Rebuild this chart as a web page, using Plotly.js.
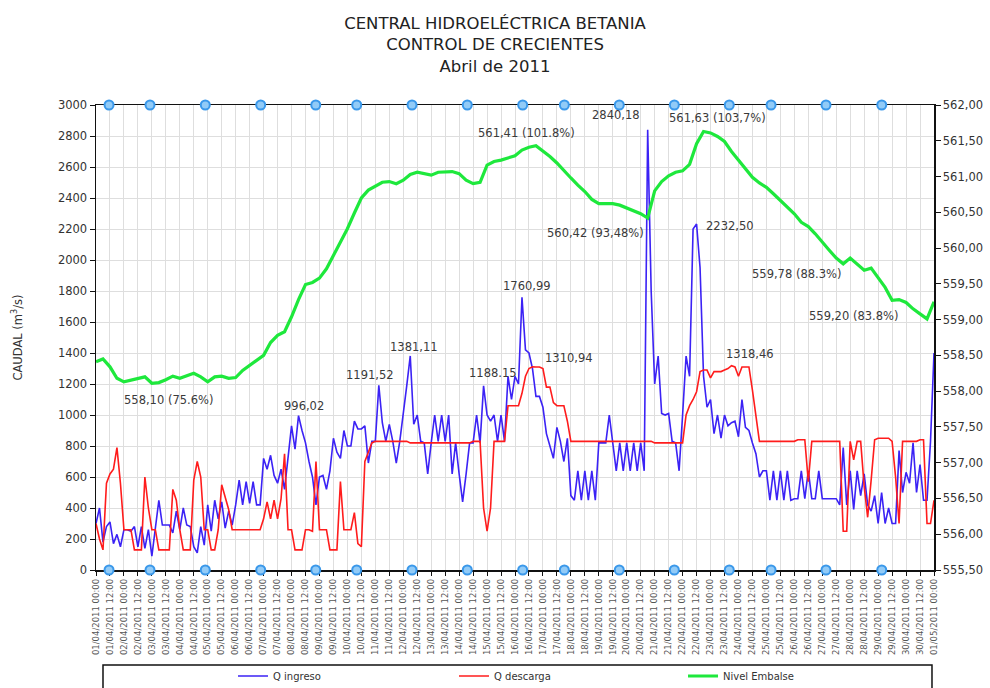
<!DOCTYPE html>
<html>
<head>
<meta charset="utf-8">
<script src="https://cdn.plot.ly/plotly-3.0.1.min.js"></script>
<style>
html,body{margin:0;padding:0;background:#fff;}
#chart{width:990px;height:688px;}
</style>
</head>
<body>
<div id="chart"></div>
<script>
// ---- DATA ----
// Q ingreso (m3/s), one value every 3 hours from 01/04/2011 00:00 to 01/05/2011 00:00
const qIngreso = [
  300,400,180,280,310,170,230,150,
  260,260,250,280,150,280,140,260,
  90,260,450,290,290,290,240,380,
  260,400,290,280,150,110,280,160,
  420,250,450,330,440,270,380,290,
  420,580,420,570,430,570,420,420,
  720,650,740,610,560,650,520,730,
  930,780,996,900,820,700,600,420,
  600,610,520,640,850,760,720,900,
  800,800,960,910,910,930,690,830,
  830,1191,950,830,940,830,690,830,
  1000,1190,1381,940,1000,830,820,620,
  820,1000,830,1000,830,1000,620,820,
  620,440,620,820,820,1000,820,1188,
  1000,960,1000,830,1000,830,1250,1100,
  1250,1200,1760,1420,1400,1300,1120,1120,
  1050,880,800,720,920,830,700,850,
  480,450,640,450,640,450,640,450,
  820,820,820,1000,820,640,820,640,
  820,640,820,640,820,640,2840,1800,
  1200,1380,1010,1000,1010,830,820,640,
  1000,1380,1250,2200,2232,1950,1250,1050,
  1100,880,1000,850,1000,930,950,960,
  860,1100,920,900,820,750,600,640,
  640,450,640,450,640,450,640,450,
  460,460,640,460,640,460,460,640,
  460,460,460,460,460,420,790,420,
  640,390,640,480,620,420,380,480,
  300,500,300,400,300,300,770,500,
  630,560,820,500,680,450,450,830,
  1400
];
// Q descarga (m3/s), same 3-hour steps
const qDescarga = [
  300,200,130,560,620,650,790,560,
  260,260,260,130,130,130,600,400,
  260,260,130,130,130,130,520,450,
  260,130,130,130,580,700,600,260,
  260,130,130,260,550,470,390,260,
  260,260,260,260,260,260,260,260,
  330,440,330,450,330,460,750,260,
  260,130,130,130,260,260,250,700,
  260,260,260,130,130,130,570,260,
  260,260,370,170,150,700,760,820,
  830,830,830,830,830,830,830,830,
  830,830,820,820,820,820,820,820,
  820,820,820,820,820,820,820,820,
  820,820,820,820,830,830,830,400,
  250,400,830,830,830,830,1060,1060,
  1060,1060,1140,1250,1300,1311,1310,1310,
  1300,1180,1180,1080,1060,1060,1060,960,
  830,830,830,830,830,830,830,830,
  830,830,830,830,830,830,830,830,
  830,830,830,830,830,830,830,830,
  820,820,820,820,820,820,820,820,
  820,1000,1060,1100,1150,1280,1290,1290,
  1240,1280,1280,1280,1290,1300,1318,1310,
  1250,1310,1310,1310,1160,1000,830,830,
  830,830,830,830,830,830,830,830,
  830,840,840,840,570,830,830,830,
  830,830,830,830,830,830,250,250,
  830,710,830,830,540,340,580,840,
  850,850,850,850,830,600,300,830,
  830,830,830,830,840,840,300,300,
  450
];
// Nivel Embalse (m.s.n.m.), one value every 6 hours
const nivelEmbalse = [
  558.41,558.45,558.34,558.18,
  558.13,558.15,558.18,558.20,
  558.11,558.12,558.16,558.21,
  558.18,558.22,558.25,558.20,
  558.13,558.20,558.21,558.18,
  558.19,558.29,558.36,558.43,
  558.50,558.68,558.78,558.83,
  559.04,559.28,559.49,559.52,
  559.58,559.71,559.90,560.07,
  560.27,560.49,560.70,560.81,
  560.87,560.92,560.93,560.90,
  560.95,561.03,561.06,561.04,
  561.02,561.06,561.07,561.07,
  561.04,560.95,560.90,560.92,
  561.16,561.21,561.23,561.26,
  561.29,561.37,561.41,561.43,
  561.36,561.28,561.19,561.08,
  560.98,560.88,560.79,560.68,
  560.62,560.62,560.62,560.60,
  560.56,560.52,560.48,560.42,
  560.80,560.93,561.01,561.06,
  561.08,561.17,561.46,561.63,
  561.61,561.56,561.49,561.35,
  561.23,561.11,560.99,560.91,
  560.85,560.76,560.67,560.58,
  560.48,560.36,560.30,560.20,
  560.08,559.97,559.86,559.78,
  559.86,559.78,559.69,559.72,
  559.59,559.45,559.27,559.28,
  559.24,559.15,559.08,559.01,
  559.25
];
// hours (from 01/04/2011 00:00) of the round markers on the top and bottom frame
const markerHours = [11.2,46.4,93.9,141.5,188.8,224,271.5,319,366.6,402.4,449.6,496.9,544.1,580,627.2,675.1];
// value labels
const annTexts = ["558,10 (75.6%)","996,02","1191,52","1381,11","1188.15","1760,99","1310,94",
  "561,41 (101.8%)","2840,18","561,63 (103,7%)","560,42 (93,48%)","2232,50","1318,46",
  "559,78 (88.3%)","559,20 (83.8%)"];
const annHours = [62,179,235,273,341,370,406,370,447,534,429,545,562,602,651];
const annCaudal = [1097,1058,1258,1439,1271,1832,1368,2819,2935,2916,2174,2219,1394,1910,1639];

const seriesNames = ["Q ingreso","Q descarga","Nivel Embalse"];
const titleLines = ["CENTRAL HIDROELÉCTRICA BETANIA","CONTROL DE CRECIENTES","Abril de 2011"];

// ---- helpers ----
const START = Date.UTC(2011, 3, 1);
function hourToDate(h){
  const d = new Date(START + Math.round(h*3600000));
  return d.toISOString().slice(0,16).replace('T',' ');
}
const qTimes = qIngreso.map((_, i) => hourToDate(i*3));
const nTimes = nivelEmbalse.map((_, i) => hourToDate(i*6));
const mTimes = markerHours.map(hourToDate);

const FONT = 'DejaVu Sans, Verdana, sans-serif';

const traces = [
  {x:qTimes, y:qIngreso, name:seriesNames[0], type:'scatter', mode:'lines',
   line:{color:'#3b22f5', width:1.6}, legend:'legend', yaxis:'y'},
  {x:qTimes, y:qDescarga, name:seriesNames[1], type:'scatter', mode:'lines',
   line:{color:'#ff1c1c', width:1.6}, legend:'legend2', yaxis:'y'},
  {x:nTimes, y:nivelEmbalse, name:seriesNames[2], type:'scatter', mode:'lines',
   line:{color:'#1ee83c', width:3.2}, legend:'legend3', yaxis:'y2'},
  {x:mTimes, y:markerHours.map(()=>3000), type:'scatter', mode:'markers', showlegend:false,
   cliponaxis:false, hoverinfo:'skip',
   marker:{size:9, color:'#92cbf7', line:{color:'#3a98ea', width:2}}},
  {x:mTimes, y:markerHours.map(()=>0), type:'scatter', mode:'markers', showlegend:false,
   cliponaxis:false, hoverinfo:'skip',
   marker:{size:9, color:'#92cbf7', line:{color:'#3a98ea', width:2}}}
];

const annotations = annTexts.map((t,i)=>({
  x: hourToDate(annHours[i]), y: annCaudal[i], xref:'x', yref:'y', text:t,
  showarrow:false, xanchor:'center', yanchor:'middle',
  font:{family:FONT, size:11.5, color:'#3a3a3a'}
}));

const legendBase = {orientation:'h', y:-0.228, yanchor:'middle', xanchor:'left',
  bgcolor:'rgba(0,0,0,0)', borderwidth:0, font:{family:FONT, size:10, color:'#333'}};

const layout = {
  width:990, height:688,
  paper_bgcolor:'#ffffff', plot_bgcolor:'#ffffff',
  font:{family:FONT, color:'#333'},
  margin:{l:96, r:56, t:105, b:118, pad:0, autoexpand:false},
  title:{text:titleLines.join('<br>'), x:0.5, xref:'container', y:0.958, yref:'container', yanchor:'top',
    font:{family:FONT, size:16.5, color:'#222'}},
  xaxis:{type:'date', range:[hourToDate(0), hourToDate(720)], automargin:false,
    tick0:hourToDate(0), dtick:43200000, tickformat:'%d/%m/%Y %H:%M', tickangle:-90,
    tickfont:{family:FONT, size:8.5, color:'#555'},
    showgrid:true, gridcolor:'#dedede', gridwidth:1,
    showline:true, linecolor:'#111', linewidth:1.5, mirror:true,
    ticks:'outside', ticklen:4, tickcolor:'#111', zeroline:false, layer:'below traces'},
  yaxis:{range:[0,3000], dtick:200, tick0:0, showgrid:true, gridcolor:'#dedede', gridwidth:1,
    automargin:false,
    showline:true, linecolor:'#111', linewidth:1.5, ticks:'outside', ticklen:5, tickcolor:'#111',
    tickfont:{family:FONT, size:11.5, color:'#333'}, zeroline:false, layer:'below traces',
    title:{text:'CAUDAL (m<sup>3</sup>/s)', standoff:33, font:{family:FONT, size:11.5, color:'#333'}}},
  yaxis2:{range:[555.5,562], dtick:0.5, tick0:555.5, overlaying:'y', side:'right', automargin:false,
    tickformat:'.2f', showgrid:false, showline:true, linecolor:'#111', linewidth:1.5,
    ticks:'outside', ticklen:5, tickcolor:'#111', zeroline:false,
    tickfont:{family:FONT, size:11.5, color:'#333'}},
  separators:',.',
  legend:Object.assign({}, legendBase, {x:0.1635}),
  legend2:Object.assign({}, legendBase, {x:0.4272}),
  legend3:Object.assign({}, legendBase, {x:0.7005}),
  shapes:[{type:'rect', xref:'paper', yref:'paper', x0:0.00835, x1:0.9976, y0:-0.30, y1:-0.2043,
    line:{color:'#111', width:1.5}, fillcolor:'rgba(0,0,0,0)'}],
  annotations:annotations,
  showlegend:true
};

Plotly.newPlot('chart', traces, layout, {displayModeBar:false, staticPlot:true});
</script>
</body>
</html>
